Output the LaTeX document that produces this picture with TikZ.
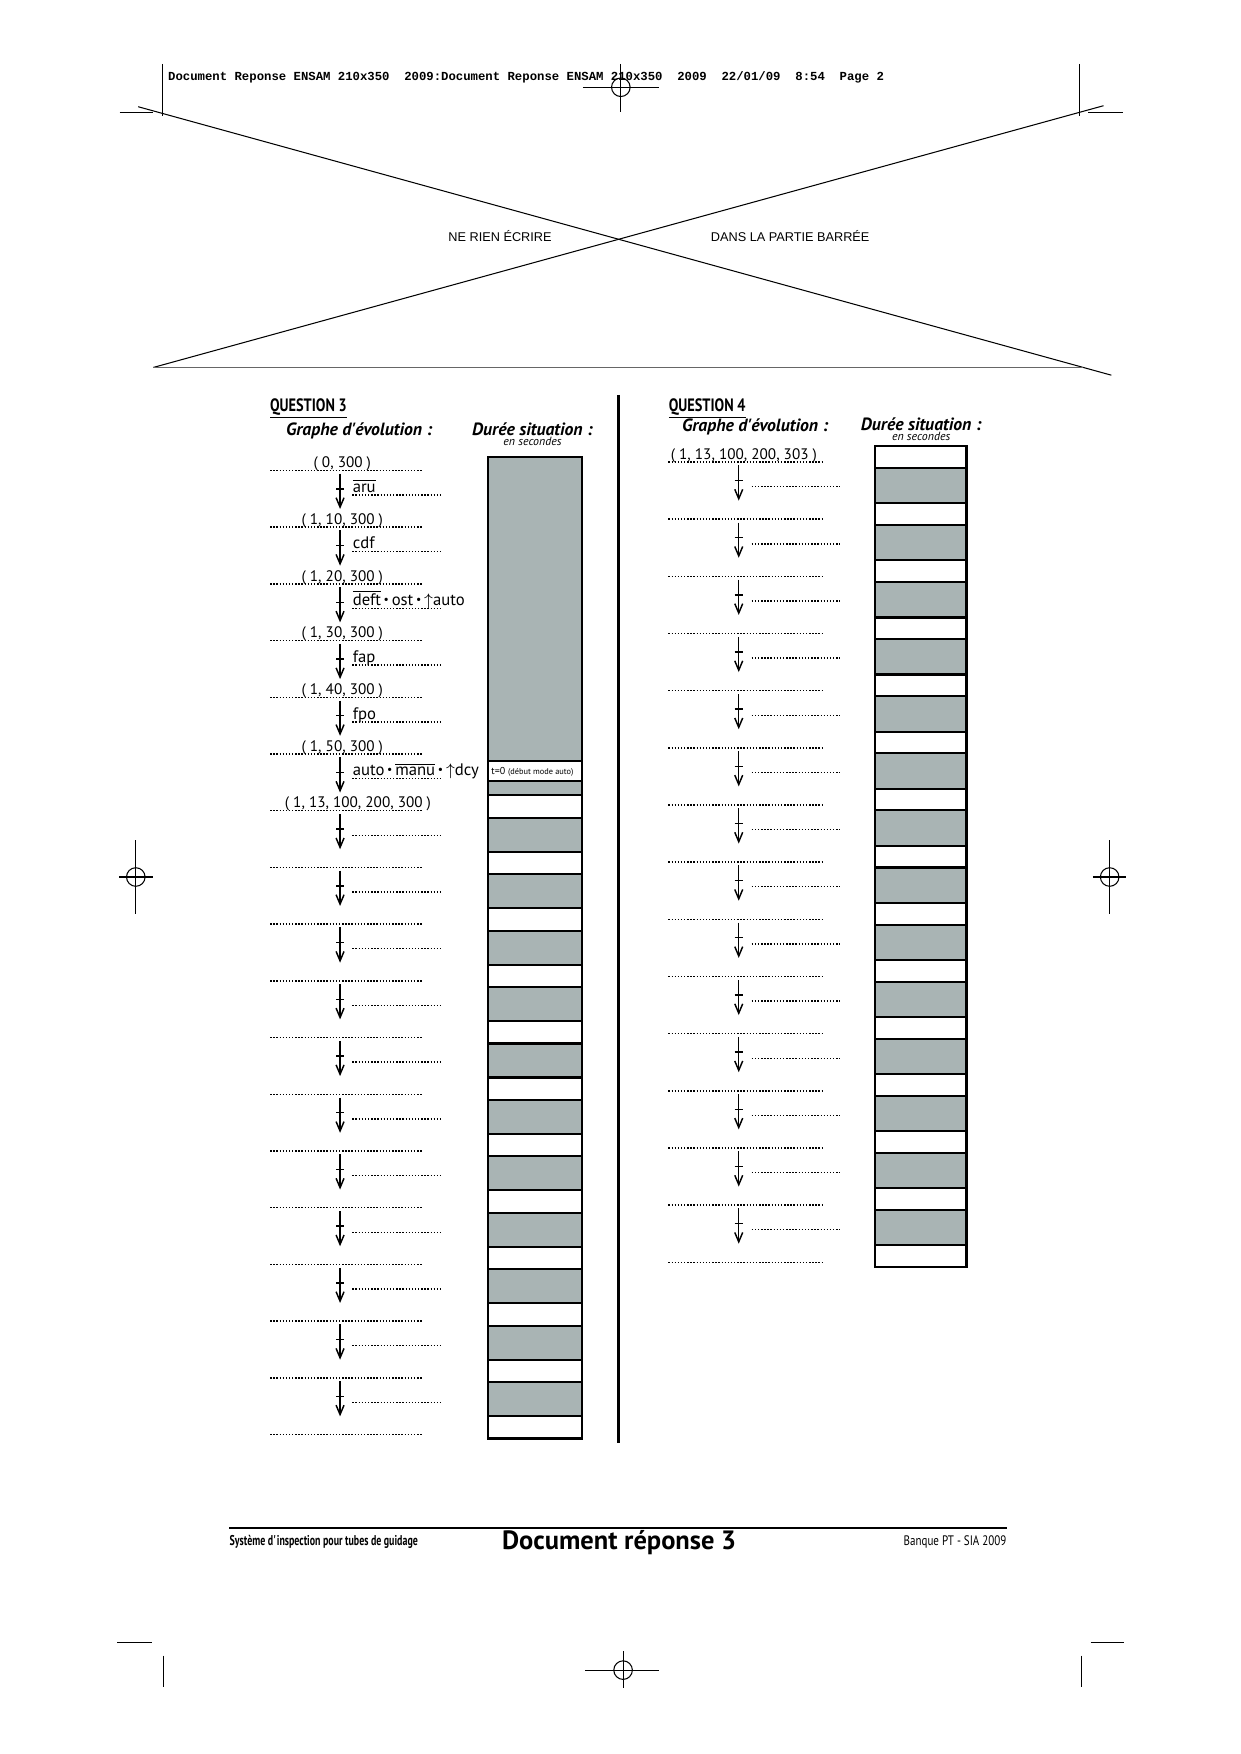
\documentclass[tikz,border=0pt]{standalone}
\usepackage{fontspec}
\setmainfont{PT Sans}
\newfontfamily\headfont{Liberation Mono}
\newfontfamily\barfont{Liberation Sans}
\newfontfamily\narrowfont[FakeStretch=0.8]{PT Sans}
\newfontfamily\footfont[FakeStretch=0.7]{PT Sans}
\usetikzlibrary{arrows.meta}
\definecolor{cellgray}{RGB}{169,180,180}
\newcommand\barre[1]{$\overline{\mbox{#1}}$}
\newcommand\et{\,\raisebox{0.3ex}{\scalebox{0.7}{\textbullet}}\,}
\newcommand\up{$\uparrow$}
\begin{document}
\begin{tikzpicture}[x=0.5367pt, y=-0.5367pt,
regline/.style = {line width=0.5pt},
dots/.style = {line width=0.7pt, dash pattern=on 0.7pt off 0.8pt},
state/.style = {anchor=base, inner sep=0pt, font=\fontsize{7.3}{9}\selectfont},
event/.style = {anchor=base west, inner sep=0pt, font=\fontsize{8}{9}\selectfont},
trans/.style = {line width=0.7pt, -{Straight Barb[length=4.5pt,width=3.8pt]}},
greycell/.style = {draw, line width=1pt, fill=cellgray},
whitecell/.style = {draw, line width=1pt, fill=white},
question/.style = {anchor=base west, inner sep=0pt, font=\narrowfont\bfseries\fontsize{8.6}{10}\selectfont},
heading/.style = {anchor=base, inner sep=0pt, font=\bfseries\itshape\fontsize{8.5}{10}\selectfont},
secunit/.style = {anchor=base, inner sep=0pt, font=\itshape\fontsize{5.7}{6}\selectfont}]
\useasboundingbox (0,0) rectangle (1109,1568);

% crop and register marks
\draw[regline] (145,57) -- (145,104);
\draw[regline] (965,57) -- (965,104);
\draw[regline] (107,100.8) -- (137,100.8);
\draw[regline] (973,100.8) -- (1004,100.8);
\draw[regline] (555,57) -- (555,100);
\draw[regline] (521,78) -- (589,78);
\draw[regline] (555,78) circle (8.3);
\draw[regline] (121.4,751) -- (121.4,817);
\draw[regline] (106.6,784) -- (137,784);
\draw[regline] (121.4,784) circle (8.3);
\draw[regline] (992,751) -- (992,817);
\draw[regline] (977,784) -- (1007,784);
\draw[regline] (992,784) circle (8.3);
\draw[regline] (105,1468) -- (136,1468);
\draw[regline] (146,1480) -- (146,1508);
\draw[regline] (975,1468) -- (1005,1468);
\draw[regline] (967,1480) -- (967,1508);
\draw[regline] (557,1476) -- (557,1509);
\draw[regline] (523,1493) -- (589,1493);
\draw[regline] (557,1493) circle (8.3);
\node[anchor=base west, inner sep=0pt, font=\headfont\bfseries\fontsize{5.9}{7}\selectfont] (head) at (150,72)
  {Document Reponse ENSAM 210x350~~2009:Document Reponse ENSAM 210x350~~2009~~22/01/09~~8:54~~Page 2};

% zone barree
\coordinate (xtl) at (123.5,95.4);
\coordinate (xtr) at (986.5,94.5);
\coordinate (xbl) at (137,328.5);
\coordinate (xbr) at (993.5,335.4);
\draw[regline] (xtl) -- (xbr);
\draw[regline] (xbl) -- (xtr);
\draw[line width=0.9pt, black!60] (xbl) -- (968,328.5);
\node[anchor=base, inner sep=0pt, font=\barfont\fontsize{6.1}{7}\selectfont] (rien) at (447,216) {NE RIEN ÉCRIRE};
\node[anchor=base, inner sep=0pt, font=\barfont\fontsize{6.1}{7}\selectfont] (dans) at (706.4,216) {DANS LA PARTIE BARRÉE};

% separateur
\draw[line width=1.3pt] (553,353) -- (553,1290);

% question 3
\node[question] (q3) at (241,367.5) {\underline{QUESTION 3}};
\node[heading] (q3graphe) at (321,389.5) {Graphe d\textquotesingle évolution :};
\node[heading] (q3duree) at (476,389) {Durée situation :};
\node[secunit] (q3sec) at (476,398) {en secondes};

\foreach \k in {0,...,17}
  \draw[dots] (241.5,{420.5+50.7*\k}) -- (378,{420.5+50.7*\k});
\foreach \k/\txt/\xc in {0/{( 0, 300 )}/306, 1/{( 1, 10, 300 )}/306, 2/{( 1, 20, 300 )}/306,
    3/{( 1, 30, 300 )}/306, 4/{( 1, 40, 300 )}/306, 5/{( 1, 50, 300 )}/306,
    6/{( 1, 13, 100, 200, 300 )}/320}
  \node[state] (q3s\k) at (\xc,{418+50.7*\k}) {\txt};
\foreach \k in {0,...,16}{
  \coordinate (q3a\k) at (304,{423.5+50.7*\k});
  \coordinate (q3b\k) at (304,{455+50.7*\k});
  \draw[trans] (q3a\k) -- (q3b\k);
  \draw[line width=0.7pt] (300.4,{437+50.7*\k}) -- (307.6,{437+50.7*\k});
  \draw[dots] (315,{442.5+50.7*\k}) -- (395,{442.5+50.7*\k});
}
\foreach \k/\txt in {0/\barre{aru}, 1/cdf, 2/{\barre{deft}\et ost\et\up auto},
    3/fap, 4/fpo, 5/{auto\et\barre{manu}\et\up dcy}}
  \node[event] (q3e\k) at (315,{440+50.7*\k}) {\txt};

\draw[greycell] (436,408.5) rectangle (520,680);
\draw[whitecell] (436,680) rectangle (520,698.5);
\draw[greycell] (436,698.5) rectangle (520,711);
\foreach \k in {0,...,11}
  \draw[whitecell] (436,{711+50.45*\k}) rectangle (520,{731+50.45*\k});
\foreach \k in {0,...,10}
  \draw[greycell] (436,{731+50.45*\k}) rectangle (520,{761.45+50.45*\k});
\node[anchor=base west, inner sep=0pt, font=\fontsize{4.8}{5}\selectfont] (t0) at (439,692.5)
  {t=0 {\fontsize{4}{4}\selectfont(début mode auto)}};

% question 4
\node[question] (q4) at (597.5,367.5) {\underline{QUESTION 4}};
\node[heading] (q4graphe) at (675,386) {Graphe d\textquotesingle évolution :};
\node[heading] (q4duree) at (823.5,384.5) {Durée situation :};
\node[secunit] (q4sec) at (823.5,393.5) {en secondes};

\foreach \k in {0,...,14}
  \draw[dots] (597.5,{413+51.1*\k}) -- (735,{413+51.1*\k});
\node[state] (q4s0) at (665,410.5) {( 1, 13, 100, 200, 303 )};
\foreach \k in {0,...,13}{
  \coordinate (q4a\k) at (660.4,{416+51.1*\k});
  \coordinate (q4b\k) at (660.4,{447.5+51.1*\k});
  \draw[trans] (q4a\k) -- (q4b\k);
  \draw[line width=0.7pt] (656.8,{429.5+51.1*\k}) -- (664,{429.5+51.1*\k});
  \draw[dots] (672,{435+51.1*\k}) -- (751,{435+51.1*\k});
}
\foreach \k in {0,...,14}
  \draw[whitecell] (782,{399+51*\k}) rectangle (864,{418.5+51*\k});
\foreach \k in {0,...,13}
  \draw[greycell] (782,{418.5+51*\k}) rectangle (864,{450+51*\k});

% pied de page
\draw[line width=1pt] (205,1366) -- (900,1366);
\node[anchor=base west, inner sep=0pt, font=\footfont\bfseries\fontsize{6.8}{8}\selectfont] (sujet) at (205,1382) {Système d\textquotesingle inspection pour tubes de guidage};
\node[anchor=base, inner sep=0pt, font=\bfseries\fontsize{12.7}{14}\selectfont] (docrep) at (553.5,1385) {Document réponse 3};
\node[anchor=base east, inner sep=0pt, font=\narrowfont\fontsize{6.6}{8}\selectfont] (banque) at (900,1382) {Banque PT - SIA 2009};
\end{tikzpicture}
\end{document}
